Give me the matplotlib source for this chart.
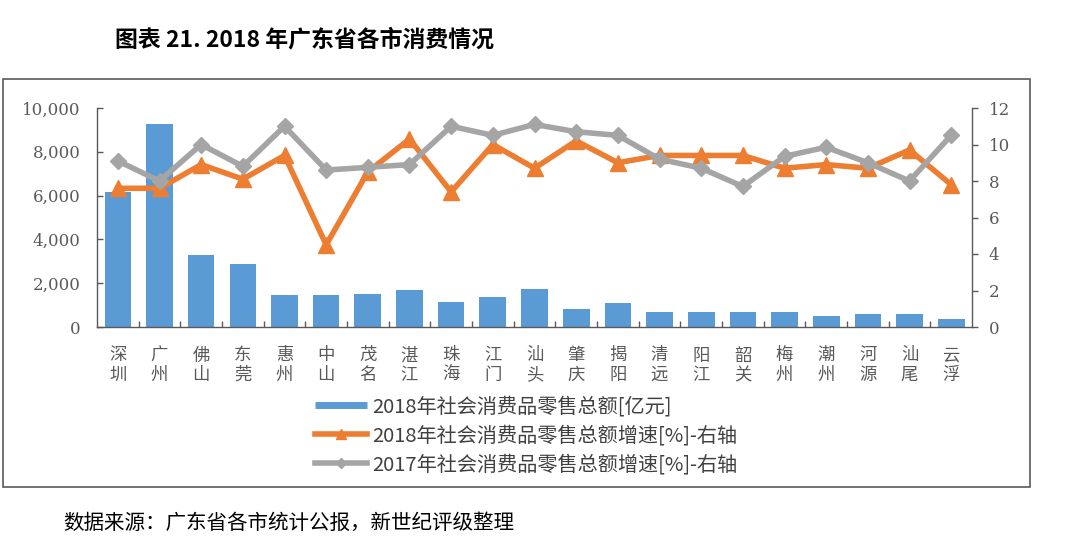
import matplotlib
matplotlib.use("Agg")
import matplotlib.pyplot as plt
from matplotlib.lines import Line2D
from matplotlib.patches import Rectangle
from matplotlib.ticker import FuncFormatter, MultipleLocator, FixedLocator

plt.rcParams['font.family'] = ['Noto Sans CJK SC', 'DejaVu Sans']

cities = ['深圳', '广州', '佛山', '东莞', '惠州', '中山', '茂名', '湛江', '珠海', '江门', '汕头',
          '肇庆', '揭阳', '清远', '阳江', '韶关', '梅州', '潮州', '河源', '汕尾', '云浮']
retail_2018 = [6164, 9254, 3272, 2861, 1446, 1446, 1492, 1674, 1157, 1385, 1720,
               807, 1111, 700, 700, 700, 700, 517, 578, 578, 350]
growth_2018 = [7.6, 7.6, 8.9, 8.1, 9.4, 4.5, 8.5, 10.3, 7.4, 10.0, 8.7,
               10.2, 9.0, 9.4, 9.4, 9.4, 8.7, 8.9, 8.7, 9.7, 7.8]
growth_2017 = [9.1, 8.0, 10.0, 8.8, 11.0, 8.6, 8.75, 8.9, 11.0, 10.5, 11.1,
               10.7, 10.5, 9.2, 8.7, 7.7, 9.35, 9.85, 9.0, 8.0, 10.5]
labels = ['2018年社会消费品零售总额[亿元]',
          '2018年社会消费品零售总额增速[%]-右轴',
          '2017年社会消费品零售总额增速[%]-右轴']
title = '图表 21. 2018 年广东省各市消费情况'
source = '数据来源：广东省各市统计公报，新世纪评级整理'

BLUE = '#5B9BD5'
ORANGE = '#ED7D31'
GRAY = '#A5A5A5'
TXT = '#595959'
SPINE = '#595959'

W, H = 1080, 548
fig = plt.figure(figsize=(W / 100, H / 100), dpi=100)

# outer frame
fig.patches.append(Rectangle((3 / W, 1 - 487 / H), (1030 - 3) / W, (487 - 79) / H,
                             transform=fig.transFigure, fill=False,
                             edgecolor='#595959', lw=1.2))

ax = fig.add_axes([97 / W, 1 - 327 / H, (972 - 97) / W, (327 - 108) / H])
x = list(range(len(cities)))
ax.bar(x, retail_2018, width=0.64, color=BLUE, zorder=2)
ax.set_xlim(-0.5, len(cities) - 0.5)
ax.set_ylim(0, 10000)
ax.yaxis.set_major_locator(MultipleLocator(2000))
ax.yaxis.set_major_formatter(FuncFormatter(lambda v, p: f'{int(v):,}'))
ax.set_xticks(x)
ax.set_xticklabels(['\n'.join(c) for c in cities], fontsize=12.5, color=TXT,
                   linespacing=1.12, fontweight='light')
ax.xaxis.set_minor_locator(FixedLocator([i + 0.5 for i in range(len(cities) - 1)]))
ax.tick_params(axis='x', which='major', length=0, pad=14)
ax.tick_params(axis='x', which='minor', direction='in', length=4, width=1, color=SPINE)
ax.tick_params(axis='y', direction='in', length=4, width=1, color=SPINE,
               labelcolor=TXT, pad=12)
for lab in ax.get_yticklabels():
    lab.set_family('DejaVu Serif')
    lab.set_fontsize(12)
ax.spines['top'].set_visible(False)
ax.spines['right'].set_visible(False)
for s in ('left', 'bottom'):
    ax.spines[s].set_color(SPINE)
    ax.spines[s].set_linewidth(1)

ax2 = ax.twinx()
ax2.plot(x, growth_2018, color=ORANGE, lw=4, marker='^', markersize=11, zorder=3)
ax2.plot(x, growth_2017, color=GRAY, lw=4, marker='D', markersize=8, zorder=4)
ax2.set_ylim(0, 12)
ax2.yaxis.set_major_locator(MultipleLocator(2))
ax2.tick_params(axis='y', direction='out', length=4, width=1, color=SPINE,
                labelcolor=TXT, pad=8)
for lab in ax2.get_yticklabels():
    lab.set_family('DejaVu Serif')
    lab.set_fontsize(12)
for s in ('top', 'left', 'bottom'):
    ax2.spines[s].set_visible(False)
ax2.spines['right'].set_color(SPINE)
ax2.spines['right'].set_linewidth(1)

handles = [Line2D([], [], color=BLUE, lw=5, solid_capstyle='butt'),
           Line2D([], [], color=ORANGE, lw=4, marker='^', markersize=7),
           Line2D([], [], color=GRAY, lw=4, marker='D', markersize=5)]
fig.legend(handles, labels, loc='upper left', bbox_to_anchor=(315 / W, 1 - 396 / H),
           frameon=False, fontsize=14.5, handlelength=2.6, handletextpad=0.25,
           labelspacing=0.4, borderpad=0, borderaxespad=0, labelcolor='#404040')

fig.text(115 / W, 1 - 40 / H, title, fontsize=16.5, fontweight='bold',
         ha='left', va='center', color='black')
fig.text(63 / W, 1 - 523 / H, source, fontsize=14.8, ha='left', va='center',
         color='black')

fig.savefig('out.png', dpi=100)
